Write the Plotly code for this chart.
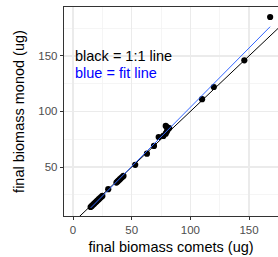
import numpy as np
import plotly.graph_objects as go

comets = [15, 16, 17, 18, 19, 20, 21, 22, 23, 24, 25, 30,
          37, 38, 39, 40, 41, 42, 43, 53, 63, 69,
          73, 77, 79, 80, 81, 79, 80, 82, 110, 120, 146, 168]
monod = [14, 15, 16, 17, 18, 19, 20, 21, 22, 23, 24, 30,
         36, 37, 38, 39, 40, 41, 42, 52, 62, 69,
         77, 78, 80, 82, 84, 87, 86, 85, 111, 122, 146, 185]

x_ticks = [0, 50, 100, 150]
y_ticks = [50, 100, 150]

xa = np.array(comets, float)
ya = np.array(monod, float)
slope, intercept = np.polyfit(xa, ya, 1)
fx = np.array([xa.min(), xa.max()])
fy = slope * fx + intercept

fig = go.Figure()
fig.add_trace(go.Scatter(x=comets, y=monod, mode="markers",
                         marker=dict(color="black", size=6.2), cliponaxis=False))
fig.add_trace(go.Scatter(x=[-20, 250], y=[-20, 250], mode="lines",
                         line=dict(color="black", width=1)))
fig.add_trace(go.Scatter(x=fx, y=fy, mode="lines",
                         line=dict(color="#3366FF", width=1)))

fig.add_annotation(x=0, y=150, text="black = 1:1 line", showarrow=False,
                   xanchor="left", yanchor="middle",
                   font=dict(color="black", size=14.5))
fig.add_annotation(x=0, y=135, text="blue = fit line", showarrow=False,
                   xanchor="left", yanchor="middle",
                   font=dict(color="#0000FF", size=14.5))

axis_common = dict(
    automargin=False,
    showgrid=True, gridcolor="#EBEBEB", gridwidth=1.4,
    zeroline=False, showline=True, linecolor="#333333", linewidth=1.2,
    ticks="outside", ticklen=3, tickcolor="#333333", tickwidth=1,
    tickfont=dict(color="#4D4D4D", size=11.5),
    title_font=dict(color="black", size=14.5),
    minor=dict(dtick=25, tick0=25, showgrid=True, gridcolor="#F2F2F2", gridwidth=0.8),
)

fig.update_xaxes(**axis_common, range=[-7.7, 174.7], tickvals=x_ticks,
                 title_text="final biomass comets (ug)", title_standoff=6,
                 mirror=True)
fig.update_yaxes(**axis_common, range=[5.9, 194], tickvals=y_ticks,
                 title_text="final biomass monod (ug)", title_standoff=10)

fig.update_layout(
    width=278, height=257,
    margin=dict(l=64, r=0, t=7, b=41),
    plot_bgcolor="white", paper_bgcolor="white",
    showlegend=False, hovermode=False,
    font=dict(family="Liberation Sans, Arial, sans-serif"),
)

fig.write_html("out.html", config={"displayModeBar": False, "staticPlot": True},
               post_script="document.body.style.margin='0';document.body.style.overflow='hidden';")
